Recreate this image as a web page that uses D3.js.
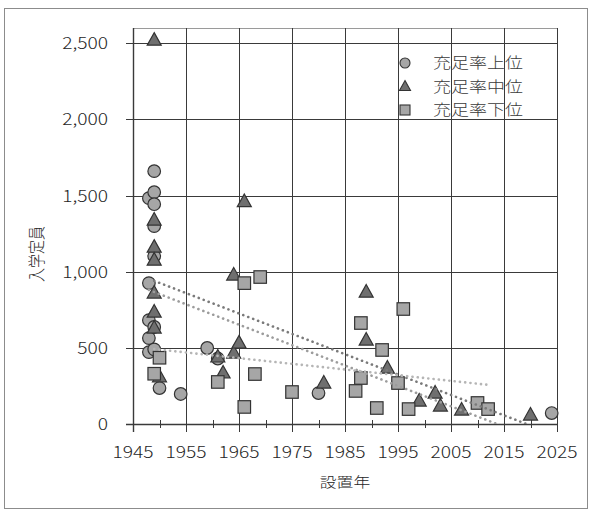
<!DOCTYPE html>
<html><head><meta charset="utf-8">
<script src="https://cdn.jsdelivr.net/npm/d3@7"></script>
<style>body{margin:0;background:#fff}svg{display:block}</style>
</head><body><svg id="c" width="592" height="513"></svg>
<script>
// ---- data ----
const seriesNames = ["充足率上位", "充足率中位", "充足率下位"];
const upperYears  = [1948,1948,1949,1949,1949,1949,1949,1948,1949,1948,1948,1949,1950,1954,1959,1961,1980,2024];
const upperValues = [925,1483,1660,1522,1443,1299,1102,682,637,564,472,490,236,197,499,430,203,72];
const middleYears  = [1949,1949,1949,1949,1949,1949,1949,1950,1961,1962,1964,1964,1965,1966,1981,1989,1989,1993,1999,2002,2003,2007,2020];
const middleValues = [2520,1339,1161,1076,860,735,630,310,440,335,978,466,532,1460,269,866,551,367,151,203,118,92,59];
const lowerYears  = [1949,1950,1961,1966,1969,1968,1966,1975,1987,1988,1988,1991,1992,1995,1996,1997,2010,2012];
const lowerValues = [330,435,276,925,965,328,112,210,217,302,663,105,486,269,755,98,138,98];
// linear trend lines (end points)
const upperTrendYears = [1948, 2024], upperTrendValues = [880, -138];
const middleTrendYears = [1949, 2020], middleTrendValues = [940, -10];
const lowerTrendYears = [1949, 2012], lowerTrendValues = [492, 257];
const xTicks = [1945,1955,1965,1975,1985,1995,2005,2015,2025];
const xMinorTicks = [1950,1960,1970,1980,1990,2000,2010,2020];
const yTicks = [0,500,1000,1500,2000,2500];

// ---- layout ----
const svg = d3.select("#c");
const L = 133, R = 557, T = 28, B = 424;
const x = d3.scaleLinear().domain([1945, 2025]).range([L, R]);
const y = d3.scaleLinear().domain([0, 2600]).range([B, T]);
const SX = 1.2; // horizontal stretch of text in the reference
const FONT = "'Noto Sans CJK JP','Noto Sans',sans-serif";
const TXT = "#262626";

// outer frame
svg.append("rect").attr("x", 4.5).attr("y", 8.5).attr("width", 583).attr("height", 500)
  .attr("fill", "#fff").attr("stroke", "#8c8c8c").attr("stroke-width", 1);

// plot top border
svg.append("line").attr("x1", L).attr("x2", R).attr("y1", T + 0.5).attr("y2", T + 0.5)
  .attr("stroke", "#9a9a9a");

const grid = svg.append("g").attr("stroke", "#3a3a3a").attr("stroke-width", 1);
yTicks.filter(d => d > 0).forEach(d => {
  grid.append("line").attr("x1", L - 7).attr("x2", R).attr("y1", Math.round(y(d)) + 0.5).attr("y2", Math.round(y(d)) + 0.5);
});
xTicks.forEach(d => {
  grid.append("line").attr("x1", Math.round(x(d)) + 0.5).attr("x2", Math.round(x(d)) + 0.5).attr("y1", T).attr("y2", B + 8);
});
xMinorTicks.forEach(d => {
  grid.append("line").attr("x1", Math.round(x(d)) + 0.5).attr("x2", Math.round(x(d)) + 0.5).attr("y1", B - 4).attr("y2", B + 4);
});
// axis lines
svg.append("line").attr("x1", L - 7).attr("x2", R).attr("y1", B + 0.5).attr("y2", B + 0.5).attr("stroke", "#3a3a3a").attr("stroke-width", 1.6);
svg.append("line").attr("x1", L + 0.5).attr("x2", L + 0.5).attr("y1", T).attr("y2", B + 8).attr("stroke", "#3a3a3a").attr("stroke-width", 1.4);

// tick labels
const fmt = d3.format(",");
yTicks.forEach(d => {
  svg.append("text").attr("transform", `translate(108,${y(d) + 6}) scale(${SX},1)`)
    .attr("text-anchor", "end").attr("font-family", FONT).attr("font-size", 16).attr("font-weight", 300).attr("fill", TXT)
    .text(fmt(d));
});
xTicks.forEach(d => {
  svg.append("text").attr("transform", `translate(${x(d)},458) scale(${SX},1)`)
    .attr("text-anchor", "middle").attr("font-family", FONT).attr("font-size", 16).attr("font-weight", 300).attr("fill", TXT)
    .text(d);
});
// axis titles
svg.append("text").attr("transform", `translate(345,487) scale(${SX},1)`)
  .attr("text-anchor", "middle").attr("font-family", FONT).attr("font-size", 14).attr("font-weight", 300).attr("fill", TXT).text("設置年");
svg.append("text").attr("transform", `translate(43,254) scale(${SX},1) rotate(-90)`)
  .attr("text-anchor", "middle").attr("font-family", FONT).attr("font-size", 14).attr("font-weight", 300).attr("fill", TXT).text("入学定員");

// markers
const plot = svg.append("g");
const circleFill = "#a6a6a6", triFill = "#6f6f6f", sqFill = "#a6a6a6", mStroke = "#333";
function drawCircles(g, xs, vs, r) {
  g.selectAll(null).data(xs.map((d, i) => [d, vs[i]])).join("circle")
    .attr("cx", d => x(d[0])).attr("cy", d => y(d[1])).attr("r", r)
    .attr("fill", circleFill).attr("stroke", mStroke).attr("stroke-width", 1.2);
}
function triPath(cx, cy, s) {
  const h = s * 0.9;
  return `M${cx},${cy - h * 0.6}L${cx + s / 2},${cy + h * 0.4}L${cx - s / 2},${cy + h * 0.4}Z`;
}
function drawTris(g, xs, vs, s) {
  g.selectAll(null).data(xs.map((d, i) => [d, vs[i]])).join("path")
    .attr("d", d => triPath(x(d[0]), y(d[1]), s))
    .attr("fill", triFill).attr("stroke", mStroke).attr("stroke-width", 1.2).attr("stroke-linejoin", "miter");
}
function drawSquares(g, xs, vs, s) {
  g.selectAll(null).data(xs.map((d, i) => [d, vs[i]])).join("rect")
    .attr("x", d => x(d[0]) - s / 2).attr("y", d => y(d[1]) - s / 2).attr("width", s).attr("height", s)
    .attr("fill", sqFill).attr("stroke", mStroke).attr("stroke-width", 1.2);
}
drawCircles(plot, upperYears, upperValues, 6.3);
drawTris(plot, middleYears, middleValues, 14);
drawSquares(plot, lowerYears, lowerValues, 12.5);

// trend lines (clipped to plot area)
svg.append("clipPath").attr("id", "clip").append("rect").attr("x", L).attr("y", T).attr("width", R - L).attr("height", B - T);
const tl = svg.append("g").attr("clip-path", "url(#clip)");
const line = d3.line().x(d => x(d[0])).y(d => y(d[1]));
[[middleTrendYears, middleTrendValues, "#7a7a7a"],
 [upperTrendYears, upperTrendValues, "#9c9c9c"],
 [lowerTrendYears, lowerTrendValues, "#b5b5b5"]].forEach(([ys, vs, c]) => {
  tl.append("path").attr("d", line(ys.map((d, i) => [d, vs[i]])))
    .attr("fill", "none").attr("stroke", c).attr("stroke-width", 2.6)
    .attr("stroke-dasharray", "0.1 5.2").attr("stroke-linecap", "round");
});

// legend
const lg = svg.append("g");
const rows = [63, 86.5, 110];
lg.append("circle").attr("cx", 405).attr("cy", rows[0]).attr("r", 5).attr("fill", circleFill).attr("stroke", mStroke).attr("stroke-width", 1.1);
lg.append("path").attr("d", triPath(405, rows[1], 11)).attr("fill", triFill).attr("stroke", mStroke).attr("stroke-width", 1.1);
lg.append("rect").attr("x", 400).attr("y", rows[2] - 5).attr("width", 10).attr("height", 10).attr("fill", sqFill).attr("stroke", mStroke).attr("stroke-width", 1.1);
seriesNames.forEach((n, i) => {
  lg.append("text").attr("transform", `translate(433,${rows[i] + 5}) scale(${SX},1)`)
    .attr("font-family", FONT).attr("font-size", 15).attr("font-weight", 300).attr("fill", "#3a3a3a").text(n);
});
</script></body></html>
